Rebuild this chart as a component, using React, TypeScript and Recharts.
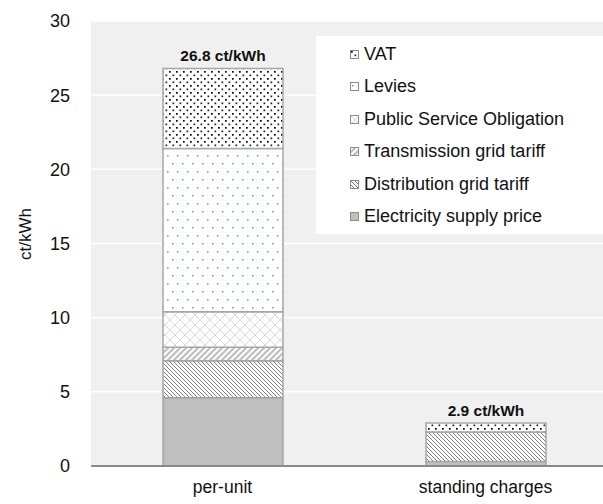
import React from 'react';
import { BarChart, Bar, XAxis, YAxis, CartesianGrid, LabelList, Legend } from 'recharts';

const categories = ['per-unit', 'standing charges'];
const supply = [4.6, 0.3];
const distribution = [2.5, 2.0];
const transmission = [0.9, 0];
const pso = [2.4, 0];
const levies = [11.0, 0];
const vat = [5.4, 0.6];
const totals = ['26.8 ct/kWh', '2.9 ct/kWh'];
const yTicks = [0, 5, 10, 15, 20, 25, 30];

const data = categories.map((c, i) => ({
  name: c,
  supply: supply[i],
  distribution: distribution[i],
  transmission: transmission[i],
  pso: pso[i],
  levies: levies[i],
  vat: vat[i],
  total: totals[i],
}));

const series = [
  { key: 'supply', label: 'Electricity supply price', fill: '#bfbfbf' },
  { key: 'distribution', label: 'Distribution grid tariff', fill: 'url(#pDist)' },
  { key: 'transmission', label: 'Transmission grid tariff', fill: 'url(#pTrans)' },
  { key: 'pso', label: 'Public Service Obligation', fill: 'url(#pPso)' },
  { key: 'levies', label: 'Levies', fill: 'url(#pLev)' },
  { key: 'vat', label: 'VAT', fill: 'url(#pVat)' },
];

const FONT = '"Liberation Sans", Arial, sans-serif';
const STROKE = '#a6a6a6';

const LegendBox = () => (
  <div
    style={{
      width: 300,
      height: 198,
      background: '#ffffff',
      boxSizing: 'border-box',
      paddingLeft: 34,
      paddingTop: 2,
      fontFamily: FONT,
      fontSize: 18,
      color: '#111',
    }}
  >
    {[...series].reverse().map((s) => (
      <div key={s.key} style={{ height: 32.5, display: 'flex', alignItems: 'center' }}>
        <svg width={9} height={9} style={{ marginRight: 5 }}>
          <rect x={0.5} y={0.5} width={8} height={8} fill={s.fill} stroke="#8c8c8c" strokeWidth={1} />
        </svg>
        <span>{s.label}</span>
      </div>
    ))}
  </div>
);

const TotalLabel = (props: any) => {
  const { x, y, width, value } = props;
  return (
    <text
      x={x + width / 2}
      y={y - 7}
      textAnchor="middle"
      fontFamily={FONT}
      fontSize={15.5}
      fontWeight="bold"
      fill="#111"
    >
      {value}
    </text>
  );
};

export default function App() {
  return (
    <div style={{ position: 'fixed', left: 0, top: 0, width: 603, height: 504, overflow: 'hidden', background: '#fff' }}>
      <BarChart
        width={620}
        height={504}
        data={data}
        margin={{ top: 21, right: 3, bottom: 0, left: 0 }}
        barSize={120}
        style={{ fontFamily: FONT }}
      >
        <defs>
          <pattern id="pDist" width="4" height="4" patternUnits="userSpaceOnUse">
            <rect width="4" height="4" fill="#ffffff" />
            <path d="M-1,-1 L5,5 M-1,3 L1,5 M3,-1 L5,1" stroke="#7f7f7f" strokeWidth="1" />
          </pattern>
          <pattern id="pTrans" width="6" height="6" patternUnits="userSpaceOnUse">
            <rect width="6" height="6" fill="#ffffff" />
            <path d="M-1,7 L7,-1 M-4,4 L4,-4 M2,10 L10,2" stroke="#bfbfbf" strokeWidth="2.2" />
          </pattern>
          <pattern id="pPso" width="10" height="10" patternUnits="userSpaceOnUse">
            <rect width="10" height="10" fill="#ffffff" />
            <path d="M0,0 L10,10 M10,0 L0,10" stroke="#d9d9d9" strokeWidth="1" />
          </pattern>
          <pattern id="pLev" width="10" height="16" patternUnits="userSpaceOnUse">
            <rect width="10" height="16" fill="#ffffff" />
            <rect x="2" y="3" width="1.5" height="1.5" fill="#5b9bd5" />
            <rect x="7" y="11" width="1.5" height="1.5" fill="#5b9bd5" />
          </pattern>
          <pattern id="pVat" width="7" height="7" patternUnits="userSpaceOnUse">
            <rect width="7" height="7" fill="#ffffff" />
            <rect x="1" y="1" width="1.7" height="1.7" fill="#000" />
            <rect x="4.5" y="4.5" width="1.7" height="1.7" fill="#222" />
          </pattern>
        </defs>
        <CartesianGrid vertical={false} fill="#f0f0f0" stroke="#ffffff" strokeWidth={1.5} />
        <XAxis
          dataKey="name"
          tickLine={false}
          axisLine={{ stroke: '#898989', strokeWidth: 2 }}
          tick={{ fontSize: 17.5, fill: '#111', fontFamily: FONT }}
          height={38}
          tickMargin={9}
        />
        <YAxis
          domain={[0, 30]}
          ticks={yTicks}
          width={91}
          axisLine={false}
          tickLine={false}
          tickMargin={15}
          tick={{ fontSize: 18, fill: '#111', fontFamily: FONT }}
          label={{
            content: () => (
              <text
                x={25}
                y={234}
                transform="rotate(-90, 25, 234)"
                textAnchor="middle"
                dominantBaseline="central"
                fontFamily={FONT}
                fontSize={17}
                fill="#111"
              >
                ct/kWh
              </text>
            ),
          }}
        />
        <Legend
          layout="vertical"
          align="center"
          verticalAlign="middle"
          content={() => <LegendBox />}
          wrapperStyle={{ position: 'absolute', left: 316, top: 36, width: 300, height: 198 }}
        />
        {series.map((s) => (
          <Bar
            key={s.key}
            dataKey={s.key}
            stackId="a"
            fill={s.fill}
            stroke={STROKE}
            strokeWidth={1.5}
            isAnimationActive={false}
            legendType="square"
            name={s.label}
          >
            {s.key === 'vat' ? <LabelList dataKey="total" content={<TotalLabel />} /> : null}
          </Bar>
        ))}
      </BarChart>
    </div>
  );
}
